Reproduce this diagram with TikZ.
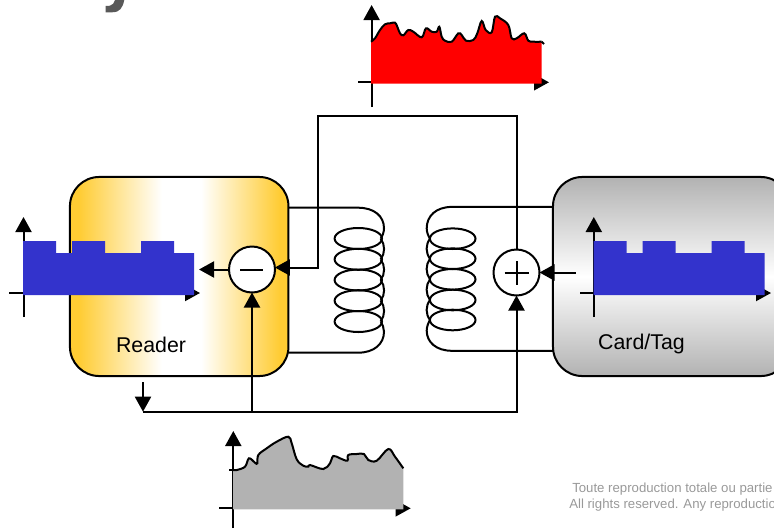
\documentclass[tikz,border=0pt]{standalone}
\usepackage{fontspec}
\setmainfont{Liberation Sans}
\usetikzlibrary{arrows.meta}

\definecolor{readerorange}{HTML}{FFCC33}
\definecolor{cardgray}{HTML}{B2B2B2}
\definecolor{sigblue}{HTML}{3333CC}
\definecolor{sigred}{HTML}{FF0000}
\definecolor{notegray}{HTML}{999999}
\definecolor{titlegray}{HTML}{595959}

\pgfdeclarehorizontalshading{readershade}{100bp}{
  color(0bp)=(readerorange); color(27bp)=(readerorange);
  color(46bp)=(white); color(55bp)=(white);
  color(73bp)=(readerorange); color(100bp)=(readerorange)}

\tikzset{
  wire/.style={line width=1.5pt},
  sigarrow/.style={wire, -{Triangle[length=11.25pt,width=12pt]}},
  device/.style={draw, line width=1.5pt, rounded corners=22pt, inner sep=0pt, outer sep=0pt},
  devlabel/.style={anchor=base, inner sep=0pt, font=\fontsize{16}{19}\selectfont},
  mixer/.style={circle, draw, fill=white, line width=1.5pt, minimum size=34.5pt, inner sep=0pt, outer sep=0pt},
  note/.style={anchor=west, inner sep=0pt, text=notegray, font=\fontsize{9.9}{12}\selectfont}
}

% name, left x, origin x, right x, top y, origin y, bottom y
\newcommand{\sigaxes}[7]{
  \coordinate (#1left) at (#2,#6);
  \coordinate (#1right) at (#4,#6);
  \coordinate (#1top) at (#3,#5);
  \coordinate (#1bot) at (#3,#7);
  \draw[wire] (#1left) -- (#3,#6);
  \draw[sigarrow] (#3,#6) -- (#1right);
  \draw[sigarrow] (#1bot) -- (#1top);
}

% colour, bottom left, bottom right, points of the curve
\newcommand{\sigcurve}[4]{
  \fill[#1] (#2) -- plot[smooth, tension=0.6] coordinates {#4} -- (#3) -- cycle;
  \draw[wire] plot[smooth, tension=0.6] coordinates {#4};
}

\begin{document}
\begin{tikzpicture}[x=0.75pt, y=-0.75pt]
  \clip (0,0) rectangle (774,529);

  % leftover of the slide title
  \fill[titlegray] (124.3,0) .. controls (122.5,8) and (120,12.3) .. (112,12.3) -- (105.7,12.3)
    -- (105.7,6) -- (110,5.7) .. controls (113,5) and (114,3) .. (115,0) -- cycle;

  % boxes
  \node[device, shading=readershade, minimum width=163.9pt, minimum height=149.3pt] (reader) at (179.2,276.5) {};
  \node[device, top color=cardgray, bottom color=cardgray, middle color=white,
    minimum width=177.8pt, minimum height=149.3pt] (card) at (671.5,276.5) {};
  \node[devlabel] (readerlabel) at (151,352.4) {Reader};
  \node[devlabel] (cardlabel) at (641.5,349.3) {Card/Tag};

  % coils
  \coordinate (coilAtop) at (358,207.7);
  \coordinate (coilAbot) at (358,352.7);
  \coordinate (coilBtop) at (452,206.9);
  \coordinate (coilBbot) at (452,350.8);
  \foreach \y in {238.5,259.3,280,300.7,321.5}
    \draw[wire] (358.3,\y) ellipse [x radius=23.7, y radius=10.5];
  \foreach \y in {238.7,258.7,279.3,300,320}
    \draw[wire] (452.7,\y) ellipse [x radius=22.8, y radius=10.3];
  \draw[wire] (reader.east |- coilAtop) -- (coilAtop) .. controls (374,207.7) and (384,216) .. (384,228.3)
    .. controls (384,232) and (382.5,236) .. (380.7,238.7);
  \draw[wire] (reader.east |- coilAbot) -- (coilAbot) .. controls (374,352.7) and (384,344) .. (384,331.7)
    .. controls (384,328) and (382.5,324.5) .. (380.7,321.3);
  \draw[wire] (card.west |- coilBtop) -- (coilBtop) .. controls (436,206.9) and (426.7,216) .. (426.7,228.3)
    .. controls (426.7,232) and (428.2,236) .. (430,238.7);
  \draw[wire] (card.west |- coilBbot) -- (coilBbot) .. controls (436,350.8) and (426.7,342) .. (426.7,330.7)
    .. controls (426.7,327) and (428.2,323) .. (430,320);
  \foreach \ya/\yb in {238.7/259.3,259.3/280,280/300.7,300.7/321.3}
    \draw[wire] (380.7,\ya) .. controls (385.2,\ya+6) and (385.2,\yb-6) .. (380.7,\yb);
  \foreach \ya/\yb in {238.7/258.7,258.7/279.3,279.3/300,300/320}
    \draw[wire] (430,\ya) .. controls (425.5,\ya+6) and (425.5,\yb-6) .. (430,\yb);

  % mixers
  \node[mixer] (minus) at (252,269.5) {};
  \node[mixer] (plus) at (516.5,272.5) {};
  \draw[wire] ([xshift=-9pt]minus.center) -- ([xshift=8.5pt]minus.center);
  \draw[wire] ([xshift=-9pt]plus.center) -- ([xshift=9pt]plus.center);
  \draw[wire] ([yshift=-9pt]plus.center) -- ([yshift=9pt]plus.center);

  % wires
  \coordinate (uplink) at (318,116);
  \coordinate (downlink) at (143,411.7);
  \coordinate (downstart) at (143,382);
  \coordinate (cardout) at (575.7,272.5);
  \coordinate (readerout) at (199,269.5);
  \draw[sigarrow] (plus.north) |- (uplink) -- (uplink |- minus.5) -- (minus.5);
  \draw[sigarrow] (downlink) -| (plus.south);
  \draw[sigarrow] (downlink -| minus.south) -- (minus.south);
  \draw[sigarrow] (downstart) -- (downlink);
  \draw[sigarrow] (minus.west) -- (readerout);
  \draw[sigarrow] (cardout) -- (plus.east);

  % square signals
  \sigaxes{readersig}{9}{23.5}{200}{217}{293}{317}
  \sigaxes{cardsig}{580}{593.8}{771}{217}{293}{317}
  \foreach \dx in {0,570.5}
    \fill[sigblue, xshift=\dx*0.75pt] (23,295) -- (23,241) -- (56,241) -- (56,253) -- (72,253) -- (72,241)
      -- (105,241) -- (105,253) -- (141,253) -- (141,241) -- (174,241) -- (174,253) -- (194,253) -- (194,295) -- cycle;

  % red signal
  \sigaxes{redsig}{358}{371.6}{549}{5}{82.3}{107}
  \sigcurve{sigred}{371,83.7}{541.7,83.7}{(371,41.7) (375,38.3) (380,30) (385,24.3) (390,23.3) (395,22.7)
    (397.3,26.7) (400,33.3) (403.3,35.3) (408.3,30) (413.3,31.7) (421.7,37.3) (426,28.3) (431.7,31.7)
    (436.7,31.7) (439.3,26.7) (441.7,36.7) (445,40.7) (451.7,41.7) (458.3,33.3) (461.7,35) (466,40.7)
    (473.3,40) (477.3,33.3) (481.7,21) (485.7,30) (491.7,32.3) (495,16.7) (500,18.3) (508.3,25)
    (511.7,38.3) (516.7,38.3) (524.3,33.3) (528.3,40.7) (533.3,41.7) (541.7,41.7)}
  \coordinate (redend) at (541.7,41.7);
  \coordinate (redtail) at (544,44);
  \draw[wire] (redend) -- (redtail);

  % gray signal
  \sigaxes{graysig}{219}{233.3}{410.7}{431}{508.3}{528}
  \sigcurve{cardgray}{233,509.3}{403.3,509.3}{(233,470) (236.7,470) (245,466.7) (249,458.3) (255,462.7)
    (257.3,463.3) (258.3,455) (266.7,448.3) (276.7,441.7) (288.3,436.7) (291.7,443.3) (296.7,459.3)
    (303.3,465.7) (308.3,466.7) (310,465) (323.3,469) (330,463.3) (333.3,456) (340,458.3) (347.3,460.7)
    (348.3,455) (356.7,454) (364,454) (368.3,460) (376.7,460.7) (388.3,449) (395,456.7) (403.3,468.3)}
  \coordinate (graystart) at (233,470);
  \coordinate (graystub) at (229,470);
  \draw[wire] (graystub) -- (graystart);

  % footer
  \node[note] (notefr) at (572,489.5) {Toute reproduction totale ou partie};
  \node[note] (noteen) at (569,505.5) {All rights reserved. Any reproductio};
\end{tikzpicture}
\end{document}
